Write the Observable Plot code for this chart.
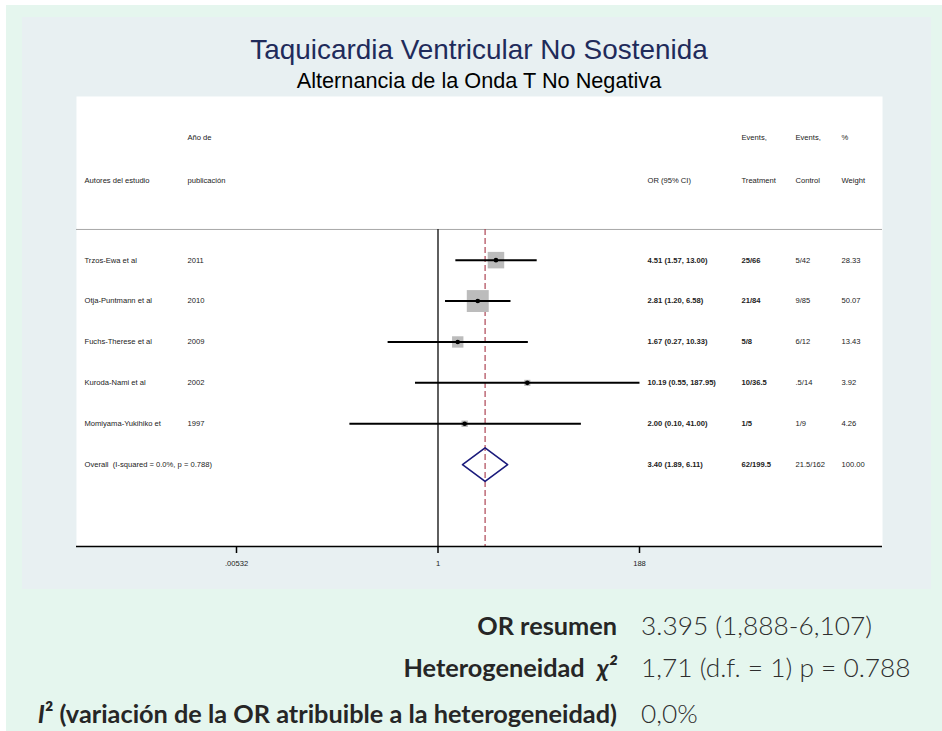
<!DOCTYPE html>
<html>
<head>
<meta charset="utf-8">
<script src="https://cdn.jsdelivr.net/npm/d3@7"></script>
<script src="https://cdn.jsdelivr.net/npm/@observablehq/plot@0.6"></script>
<style>
  html, body { margin: 0; padding: 0; }
  body { width: 942px; height: 731px; position: relative; overflow: hidden; background: #fff; font-family: "Liberation Sans", Arial, sans-serif; }
  #outer { position: absolute; left: 6px; top: 5px; width: 936px; height: 726px; background: #e5f6ee; }
  #panel { position: absolute; left: 22px; top: 17px; width: 909px; height: 572px; background: #e8f0f2; }
  #title { position: absolute; left: 22px; width: 914px; top: 36px; text-align: center; font-size: 27.9px; line-height: 27.9px; color: #1f2b5b; white-space: nowrap; }
  #subtitle { position: absolute; left: 22px; width: 914px; top: 70px; text-align: center; font-size: 21.7px; line-height: 21.7px; color: #000; white-space: nowrap; }
  #chart { position: absolute; left: 22px; top: 96px; }
  .stat { position: absolute; font-family: Lato, "Open Sans", sans-serif; line-height: 25px; white-space: nowrap; }
  .lab { right: 325px; font-size: 25.3px; font-weight: 700; color: #262626; text-align: right; }
  .val { left: 641px; font-size: 26.3px; font-weight: 300; color: #2e2e2e; }
</style>
</head>
<body>
<div id="outer"></div>
<div id="panel"></div>
<div id="title">Taquicardia Ventricular No Sostenida</div>
<div id="subtitle">Alternancia de la Onda T No Negativa</div>
<div id="chart"></div>
<div class="stat lab" style="top:613px">OR resumen</div>
<div class="stat val" style="top:613px">3.395 (1,888-6,107)</div>
<div class="stat lab" style="top:655px">Heterogeneidad&nbsp; <i>χ²</i></div>
<div class="stat val" style="top:655px">1,71 (d.f. = 1) p = 0.788</div>
<div class="stat lab" style="top:701px"><i>I</i>² (variación de la OR atribuible a la heterogeneidad)</div>
<div class="stat val" style="top:701px">0,0%</div>
<script>
// Studies in the meta-analysis
const studies = ["Trzos-Ewa et al", "Otja-Puntmann et al", "Fuchs-Therese et al", "Kuroda-Nami et al", "Momiyama-Yukihiko et"];
const years = ["2011", "2010", "2009", "2002", "1997"];
const orValues = [4.51, 2.81, 1.67, 10.19, 2.00];
const ciLow = [1.57, 1.20, 0.27, 0.55, 0.10];
const ciHigh = [13.00, 6.58, 10.33, 187.95, 41.00];
const eventsTreatment = ["25/66", "21/84", "5/8", "10/36.5", "1/5"];
const eventsControl = ["5/42", "9/85", "6/12", ".5/14", "1/9"];
const weights = [28.33, 50.07, 13.43, 3.92, 4.26];

// Pooled estimate
const overallLabel = "Overall  (I-squared = 0.0%, p = 0.788)";
const overallOR = 3.40;
const overallLow = 1.89;
const overallHigh = 6.11;
const overallTreatment = "62/199.5";
const overallControl = "21.5/162";
const overallWeight = 100.00;

// Column headers (two lines) and axis ticks
const headerTop = ["", "Año de", "", "Events,", "Events,", "%"];
const headerBottom = ["Autores del estudio", "publicación", "OR (95% CI)", "Treatment", "Control", "Weight"];
const xTicks = [0.00532, 1, 188];
const xTickLabels = [".00532", "1", "188"];

// Layout: row index -> vertical position, column offsets from the panel's left edge
const overallRow = studies.length;
const bottomRow = 7;
const headerRowTop = -3;
const headerRowBottom = -1.95;
const separatorRow = -0.75;
const colDx = [8, 111, 571, 665, 719, 765];
const colBold = [false, false, true, true, false, false];

const fmt2 = v => v.toFixed(2);
const rows = studies.map((s, i) => ({
  row: i, study: s, year: years[i], or: orValues[i], lo: ciLow[i], hi: ciHigh[i],
  treat: eventsTreatment[i], control: eventsControl[i], weight: weights[i]
}));
const tableRows = [
  ...rows.map(d => [d.row, d.study, d.year, `${fmt2(d.or)} (${fmt2(d.lo)}, ${fmt2(d.hi)})`, d.treat, d.control, fmt2(d.weight)]),
  [overallRow, overallLabel, "", `${fmt2(overallOR)} (${fmt2(overallLow)}, ${fmt2(overallHigh)})`, overallTreatment, overallControl, fmt2(overallWeight)]
];

// Diamond for the pooled estimate
const halfH = 0.41;
const diamond = [
  {x: overallLow, y: overallRow},
  {x: overallOR, y: overallRow - halfH},
  {x: overallHigh, y: overallRow},
  {x: overallOR, y: overallRow + halfH},
  {x: overallLow, y: overallRow}
];

const textMarks = [];
colDx.forEach((dx, c) => {
  const common = {frameAnchor: "left", dx, textAnchor: "start", fill: "#222", fontWeight: colBold[c] ? "bold" : "normal"};
  textMarks.push(Plot.text([headerTop[c]], {...common, y: () => headerRowTop, text: d => d, fontWeight: "normal"}));
  textMarks.push(Plot.text([headerBottom[c]], {...common, y: () => headerRowBottom, text: d => d, fontWeight: "normal"}));
  textMarks.push(Plot.text(tableRows, {...common, y: d => d[0], text: d => d[c + 1]}));
});

const chart = Plot.plot({
  width: 909,
  height: 493,
  marginLeft: 54,
  marginRight: 49,
  marginTop: 0,
  marginBottom: 43,
  style: {background: "transparent", fontFamily: '"Liberation Sans", Arial, sans-serif', fontSize: "7.6px", color: "#000", overflow: "visible"},
  x: {type: "log", domain: [xTicks[0], xTicks[2]], range: [214, 617]},
  y: {domain: [-4, bottomRow], range: [0, 450], axis: null},
  r: {type: "sqrt", domain: [0, 100], range: [0, 17.5]},
  marks: [
    Plot.frame({fill: "white", stroke: "none"}),
    Plot.ruleY([separatorRow], {stroke: "#a8a8a8", strokeWidth: 1}),
    Plot.ruleX([1], {y1: separatorRow, y2: bottomRow, stroke: "#2a2a2a", strokeWidth: 1.5}),
    Plot.ruleX([overallOR], {y1: separatorRow, y2: bottomRow, stroke: "#a63446", strokeWidth: 1.1, strokeDasharray: "6,3"}),
    Plot.dot(rows, {x: "or", y: "row", r: "weight", symbol: "square", fill: "#bcbcbc", stroke: "none"}),
    Plot.link(rows, {x1: "lo", x2: "hi", y1: "row", y2: "row", stroke: "#000", strokeWidth: 2}),
    Plot.dot(rows, {x: "or", y: "row", r: 2.3, fill: "#000", stroke: "none"}),
    Plot.line(diamond, {x: "x", y: "y", stroke: "#1b1b7c", strokeWidth: 1.6, curve: "linear"}),
    Plot.ruleY([bottomRow], {stroke: "#000", strokeWidth: 1.5}),
    // Tick marks from the axis, labels drawn from the tick label list
    Plot.axisX({ticks: xTicks, tickFormat: () => "", tickSize: 7, strokeWidth: 1.5, anchor: "bottom"}),
    Plot.text(xTicks, {x: d => d, y: bottomRow, dy: 17, text: (d, i) => xTickLabels[i], fill: "#222", textAnchor: "middle"}),
    ...textMarks
  ]
});
document.getElementById("chart").appendChild(chart);
</script>
</body>
</html>
